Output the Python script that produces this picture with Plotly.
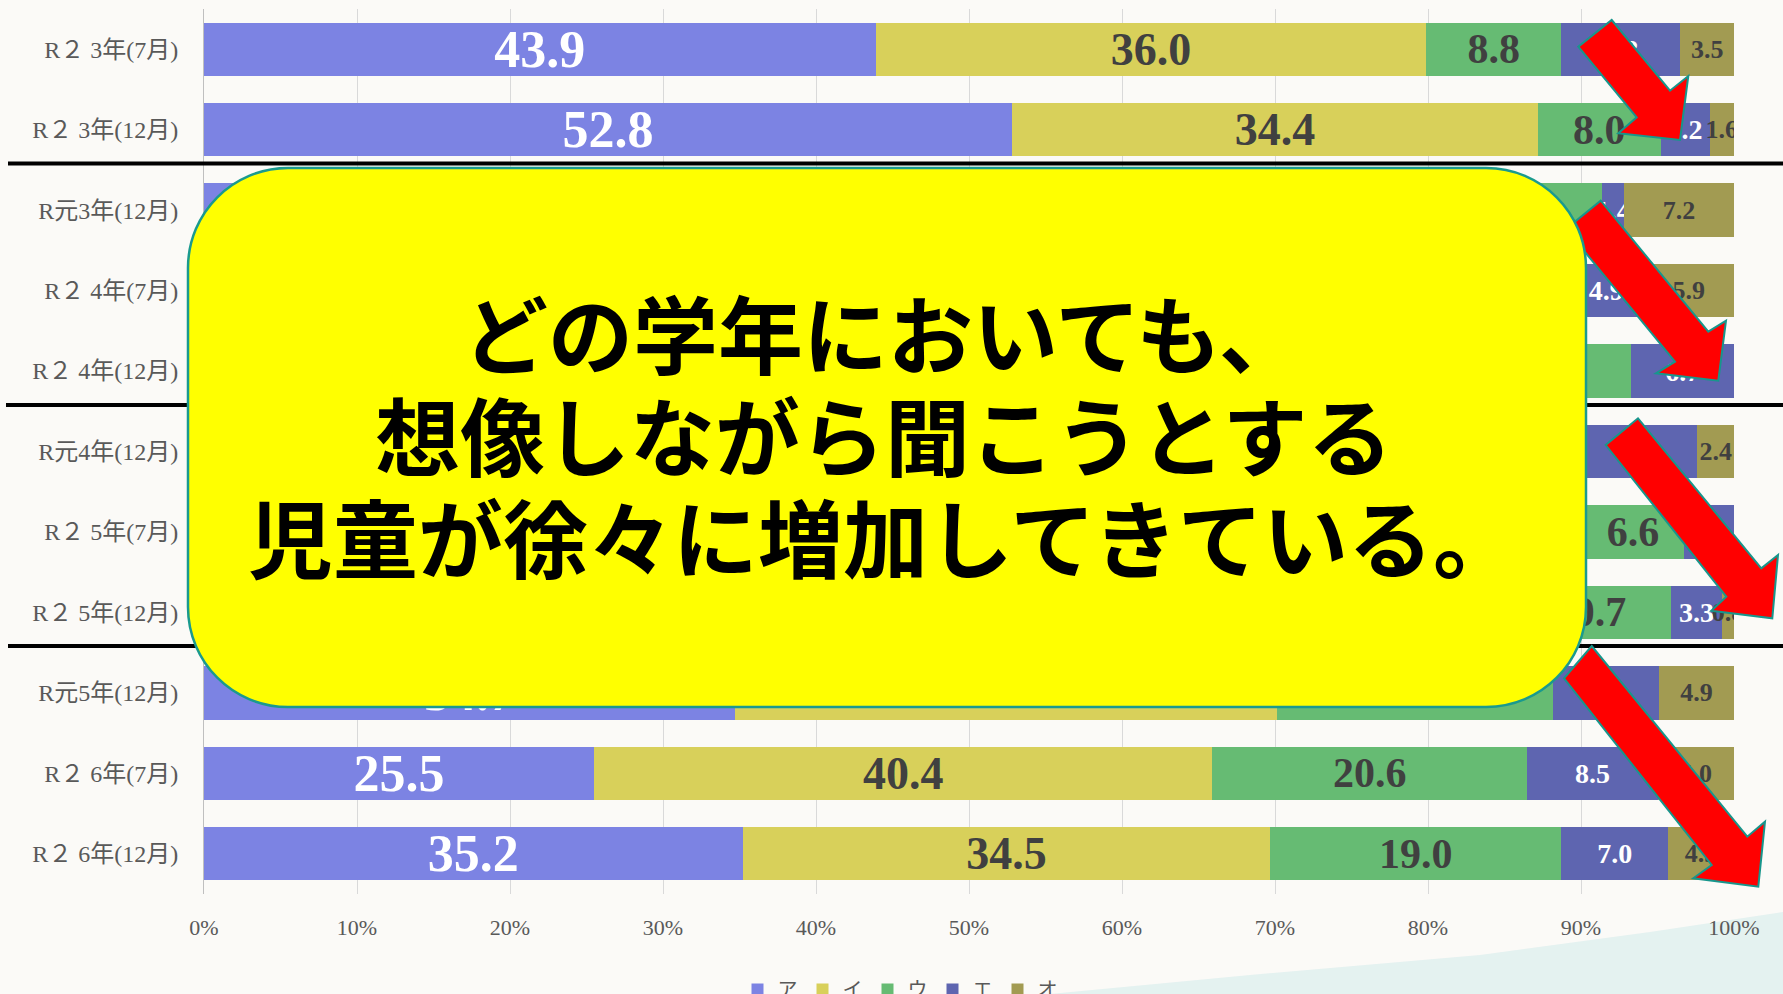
import plotly.graph_objects as go

# ---------------- data ----------------
categories = [
    "R２ 3年(7月)", "R２ 3年(12月)", "R元3年(12月)", "R２ 4年(7月)", "R２ 4年(12月)",
    "R元4年(12月)", "R２ 5年(7月)", "R２ 5年(12月)", "R元5年(12月)", "R２ 6年(7月)", "R２ 6年(12月)",
]
series_names = ["ア", "イ", "ウ", "エ", "オ"]
vals_a = [43.9, 52.8, 36.2, 41.5, 48.6, 33.5, 42.0, 46.3, 34.7, 25.5, 35.2]
vals_i = [36.0, 34.4, 40.8, 35.3, 34.2, 40.2, 48.1, 38.9, 35.4, 40.4, 34.5]
vals_u = [8.8, 8.0, 14.4, 12.4, 10.5, 15.9, 6.6, 10.7, 18.1, 20.6, 19.0]
vals_e = [7.8, 3.2, 1.4, 4.9, 6.7, 8.0, 3.3, 3.3, 6.9, 8.5, 7.0]
vals_o = [3.5, 1.6, 7.2, 5.9, 0.0, 2.4, 0.0, 0.8, 4.9, 5.0, 4.3]
tick_vals = [0, 10, 20, 30, 40, 50, 60, 70, 80, 90, 100]
tick_text = ["0%", "10%", "20%", "30%", "40%", "50%", "60%", "70%", "80%", "90%", "100%"]
callout_lines = ["どの学年においても、", "想像しながら聞こうとする", "児童が徐々に増加してきている。"]

# ---------------- styles ----------------
colors = ["#7C83E3", "#D8D05A", "#66BB73", "#5E65B0", "#A29B52"]
label_colors = ["#FFFFFF", "#404040", "#404040", "#FFFFFF", "#404040"]
label_sizes = [52, 46, 42, 28, 26]

FIG_W, FIG_H = 1783, 994
L, R, T, B = 204, 49, 9, 100
PW, PH = FIG_W - L - R, FIG_H - T - B
BOTTOM = FIG_H - B


def px(x):
    return (x - L) / PW


def py(y):
    return (BOTTOM - y) / PH


def pt(x, y):
    return f"{px(x):.5f},{py(y):.5f}"


fig = go.Figure()
all_vals = [vals_a, vals_i, vals_u, vals_e, vals_o]
for name, vals, col, lc, ls in zip(series_names, all_vals, colors, label_colors, label_sizes):
    fig.add_trace(go.Bar(
        name=name, y=categories, x=vals, orientation="h",
        marker=dict(color=col, line=dict(width=0)),
        text=[f"{v:.1f}" if v > 0 else "" for v in vals],
        textposition="inside", insidetextanchor="middle", constraintext="none",
        textangle=0,
        textfont=dict(family="Liberation Serif", size=ls, color=lc, weight="bold"),
        hoverinfo="skip",
    ))

shapes = []
# faint watercolour wash at the bottom right of the slide
shapes.append(dict(type="path", xref="paper", yref="paper", layer="below", line=dict(width=0),
                   fillcolor="rgba(140,210,215,0.20)",
                   path="M" + " L".join(pt(x, y) for x, y in
                                        [(1050, 994), (1250, 975), (1480, 955), (1650, 932), (1783, 912), (1783, 994)]) + " Z"))

# divider lines
for yline, x0 in [(163.5, 8), (405, 6), (646, 8)]:
    shapes.append(dict(type="line", xref="paper", yref="paper", x0=px(x0), x1=px(FIG_W),
                       y0=py(yline), y1=py(yline), line=dict(color="#000000", width=4), layer="above"))


def arrow_path(points):
    return "M" + " L".join(pt(x, y) for x, y in points) + " Z"


arrows = [
    [(1611.7, 20), (1670, 90.7), (1688.3, 76), (1680, 140), (1618.3, 133.3), (1636.7, 117.3), (1578.3, 46.7)],
    [(1600.7, 200.7), (1708.3, 331.7), (1726, 320.7), (1718.3, 380.7), (1656, 373.3), (1675, 361.7), (1566.1, 229)],
    [(1638, 418.3), (1761.3, 568.3), (1778, 555), (1772.3, 618.3), (1711.3, 610.7), (1726.3, 596.7), (1605.7, 445)],
    [(1591.7, 646), (1747.3, 836.7), (1765, 821.7), (1758.3, 886.7), (1693.3, 878.3), (1711.7, 865), (1564, 678.3)],
]
arrow_style = dict(type="path", xref="paper", yref="paper", fillcolor="#FF0000",
                   line=dict(color="#17968C", width=2), layer="above")

# arrow 2 sits under the callout
shapes.append(dict(path=arrow_path(arrows[1]), **arrow_style))

# rounded callout
cx0, cy0, cx1, cy1, r = 188, 168, 1586, 707, 100
k = 0.5523 * r
callout = (
    f"M{pt(cx0 + r, cy0)} L{pt(cx1 - r, cy0)} "
    f"C{pt(cx1 - r + k, cy0)} {pt(cx1, cy0 + r - k)} {pt(cx1, cy0 + r)} "
    f"L{pt(cx1, cy1 - r)} "
    f"C{pt(cx1, cy1 - r + k)} {pt(cx1 - r + k, cy1)} {pt(cx1 - r, cy1)} "
    f"L{pt(cx0 + r, cy1)} "
    f"C{pt(cx0 + r - k, cy1)} {pt(cx0, cy1 - r + k)} {pt(cx0, cy1 - r)} "
    f"L{pt(cx0, cy0 + r)} "
    f"C{pt(cx0, cy0 + r - k)} {pt(cx0 + r - k, cy0)} {pt(cx0 + r, cy0)} Z"
)
shapes.append(dict(type="path", xref="paper", yref="paper", path=callout, fillcolor="#FFFF00",
                   line=dict(color="#1A9A8E", width=2.5), layer="above"))

for i in (0, 2, 3):
    shapes.append(dict(path=arrow_path(arrows[i]), **arrow_style))

annotations = []
for line, yc in zip(callout_lines, [330, 433, 534]):
    annotations.append(dict(xref="paper", yref="paper", x=px((cx0 + cx1) / 2 - 4), y=py(yc),
                            text=f"<b>{line}</b>", showarrow=False, xanchor="center", yanchor="middle",
                            font=dict(family="Noto Sans CJK JP", size=85, color="#000000")))

fig.update_layout(
    width=FIG_W, height=FIG_H,
    margin=dict(l=L, r=R, t=T, b=B, autoexpand=False),
    barmode="stack", bargap=0.336,
    paper_bgcolor="#FBFAF7", plot_bgcolor="rgba(0,0,0,0)",
    font=dict(family="Liberation Serif, Noto Sans CJK JP", color="#595959"),
    xaxis=dict(range=[0, 100], tickvals=tick_vals, ticktext=tick_text, showgrid=True,
               gridcolor="#D9D9D9", gridwidth=1, zeroline=False, showline=False, ticks="",
               tickfont=dict(family="Liberation Serif", size=22, color="#595959"),
               ticklabelstandoff=18, fixedrange=True, automargin=False),
    yaxis=dict(autorange="reversed", showgrid=False, showline=True, linecolor="#BFBFBF", linewidth=1,
               ticks="", tickfont=dict(family="Liberation Serif, Noto Sans CJK JP", size=24, color="#595959"),
               ticklabelstandoff=20, automargin=False),
    legend=dict(orientation="h", x=px(900), xanchor="center", y=py(970), yanchor="top",
                font=dict(family="Liberation Serif, Noto Sans CJK JP", size=20, color="#595959"),
                itemwidth=30, traceorder="normal", bgcolor="rgba(0,0,0,0)"),
    shapes=shapes, annotations=annotations,
    showlegend=True,
)

fig.write_html("out.html", config={"displayModeBar": False},
               post_script="document.body.style.margin='0';")
